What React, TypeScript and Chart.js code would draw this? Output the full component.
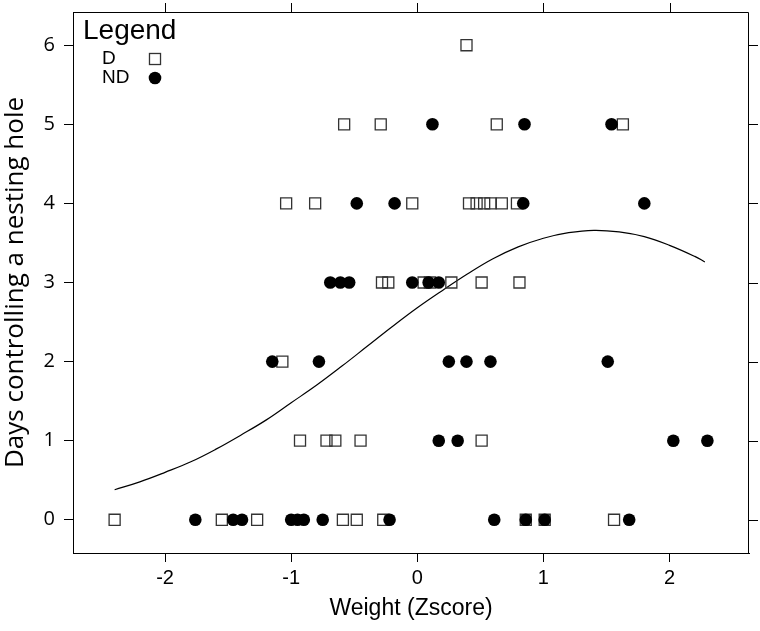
import React, { useEffect, useRef } from "react";
import { Chart, registerables } from "chart.js";

Chart.register(...registerables);

// ---- Data ----
const dX = [
  -2.4, -1.55, -1.27, -0.59, -0.48, -0.27, 0.86, 1.01, 1.56,
  -0.93, -0.72, -0.65, -0.45, 0.51,
  -1.07,
  -0.28, -0.23, 0.05, 0.1, 0.27, 0.51, 0.81,
  -1.04, -0.81, -0.04, 0.41, 0.47, 0.53, 0.58, 0.67, 0.79,
  -0.58, -0.29, 0.63, 1.63,
  0.39,
];
const dY = [
  0, 0, 0, 0, 0, 0, 0, 0, 0,
  1, 1, 1, 1, 1,
  2,
  3, 3, 3, 3, 3, 3, 3,
  4, 4, 4, 4, 4, 4, 4, 4, 4,
  5, 5, 5, 5,
  6,
];
const ndX = [
  -1.76, -1.46, -1.39, -1.0, -0.95, -0.9, -0.75, -0.22, 0.61, 0.86, 1.01, 1.68,
  0.17, 0.32, 2.03, 2.3,
  -1.15, -0.78, 0.25, 0.39, 0.58, 1.51,
  -0.69, -0.61, -0.54, -0.04, 0.09, 0.17,
  -0.48, -0.18, 0.84, 1.8,
  0.12, 0.85, 1.54,
];
const ndY = [
  0, 0, 0, 0, 0, 0, 0, 0, 0, 0, 0, 0,
  1, 1, 1, 1,
  2, 2, 2, 2, 2, 2,
  3, 3, 3, 3, 3, 3,
  4, 4, 4, 4,
  5, 5, 5,
];
const curveX = [
  -2.4, -2.2, -2.0, -1.8, -1.6, -1.4, -1.2, -1.0, -0.8, -0.6, -0.4, -0.2, 0.0,
  0.2, 0.4, 0.6, 0.8, 1.0, 1.2, 1.4, 1.6, 1.8, 2.0, 2.2, 2.28,
];
const curveY = [
  0.38, 0.48, 0.6, 0.73, 0.89, 1.07, 1.26, 1.48, 1.7, 1.94, 2.19, 2.44, 2.68,
  2.9, 3.11, 3.3, 3.45, 3.56, 3.63, 3.66, 3.64, 3.58, 3.47, 3.33, 3.26,
];
const xTicks = [-2, -1, 0, 1, 2];
const yTicks = [0, 1, 2, 3, 4, 5, 6];
const legendTitle = "Legend";
const legendLabels = ["D", "ND"];
const xTitle = "Weight (Zscore)";
const yTitle = "Days controlling a nesting hole";

const TICK_LEN = 9;
const SQ_RADIUS = 7.8;
const DOT_RADIUS = 6.3;

const framePlugin = {
  id: "frame",
  afterDraw(chart: any) {
    const { ctx, chartArea: a, scales } = chart;
    ctx.save();
    ctx.strokeStyle = "#000";
    ctx.lineWidth = 1;
    ctx.beginPath();
    ctx.rect(a.left + 0.5, a.top + 0.5, a.right - a.left - 1, a.bottom - a.top);
    ctx.stroke();
    ctx.beginPath();
    xTicks.forEach((v) => {
      const px = Math.round(scales.x.getPixelForValue(v)) + 0.5;
      ctx.moveTo(px, a.top);
      ctx.lineTo(px, a.top - TICK_LEN);
    });
    yTicks.forEach((v) => {
      const py = Math.round(scales.y.getPixelForValue(v)) + 0.5;
      ctx.moveTo(a.right, py);
      ctx.lineTo(a.right + TICK_LEN, py);
    });
    ctx.stroke();

    // legend (key)
    ctx.fillStyle = "#000";
    ctx.textBaseline = "alphabetic";
    ctx.textAlign = "left";
    ctx.font = "28px 'Liberation Sans', Arial, sans-serif";
    ctx.fillText(legendTitle, a.left + 10, a.top + 27);
    ctx.font = "19px 'Liberation Sans', Arial, sans-serif";
    ctx.textBaseline = "middle";
    const rows = [a.top + 47, a.top + 66];
    ctx.fillText(legendLabels[0], a.left + 29, rows[0]);
    ctx.fillText(legendLabels[1], a.left + 29, rows[1]);
    const mx = a.left + 82;
    const s = SQ_RADIUS * Math.SQRT1_2;
    ctx.strokeStyle = "#333";
    ctx.lineWidth = 1.3;
    ctx.strokeRect(mx - s, rows[0] - s, 2 * s, 2 * s);
    ctx.beginPath();
    ctx.arc(mx, rows[1], DOT_RADIUS, 0, Math.PI * 2);
    ctx.fill();
    ctx.restore();
  },
};

export default function App() {
  const ref = useRef<HTMLCanvasElement | null>(null);

  useEffect(() => {
    if (!ref.current) return;
    const chart = new Chart(ref.current, {
      type: "scatter",
      data: {
        datasets: [
          {
            label: legendLabels[1],
            data: ndX.map((x, i) => ({ x, y: ndY[i] })),
            pointStyle: "circle",
            pointRadius: DOT_RADIUS,
            backgroundColor: "#000",
            borderColor: "#000",
            borderWidth: 0,
            order: 0,
          },
          {
            label: legendLabels[0],
            data: dX.map((x, i) => ({ x, y: dY[i] })),
            pointStyle: "rect",
            pointRadius: SQ_RADIUS,
            backgroundColor: "rgba(0,0,0,0)",
            borderColor: "#333",
            borderWidth: 1.3,
            order: 1,
          },
          {
            label: "fit",
            data: curveX.map((x, i) => ({ x, y: curveY[i] })),
            showLine: true,
            pointRadius: 0,
            borderColor: "#000",
            borderWidth: 1.2,
            tension: 0.4,
            fill: false,
            order: 2,
          } as any,
        ],
      },
      options: {
        animation: false,
        responsive: true,
        maintainAspectRatio: false,
        events: [],
        layout: { padding: { top: 12, right: 11, left: 0, bottom: 0 } },
        plugins: {
          legend: { display: false },
          tooltip: { enabled: false },
        },
        scales: {
          x: {
            type: "linear",
            min: -2.73,
            max: 2.63,
            afterBuildTicks: (scale: any) => {
              scale.ticks = xTicks.map((v) => ({ value: v }));
            },
            afterFit: (scale: any) => {
              scale.height = 78;
              scale.paddingLeft = 0;
              scale.paddingRight = 0;
            },
            grid: {
              drawOnChartArea: false,
              drawTicks: true,
              tickLength: TICK_LEN,
              color: "#000",
            },
            border: { display: true, color: "#000" },
            ticks: {
              color: "#000",
              padding: 4,
              font: { family: "'Liberation Sans', Arial", size: 20 },
              maxRotation: 0,
            },
            title: {
              display: true,
              text: xTitle,
              color: "#000",
              font: { family: "'Liberation Sans', Arial", size: 23 },
              padding: { top: 0, bottom: 9 },
            },
          },
          y: {
            type: "linear",
            min: -0.42,
            max: 6.42,
            afterBuildTicks: (scale: any) => {
              scale.ticks = yTicks.map((v) => ({ value: v }));
            },
            afterFit: (scale: any) => {
              scale.width = 73;
              scale.paddingTop = 0;
              scale.paddingBottom = 0;
            },
            grid: {
              drawOnChartArea: false,
              drawTicks: true,
              tickLength: TICK_LEN,
              color: "#000",
            },
            border: { display: true, color: "#000" },
            ticks: {
              color: "#000",
              padding: 9,
              font: { family: "'Open Sans', sans-serif", size: 20 },
            },
            title: {
              display: true,
              text: yTitle,
              color: "#000",
              font: { family: "'Open Sans', sans-serif", size: 26 },
              padding: { top: 0, bottom: 0 },
            },
          },
        },
      },
      plugins: [framePlugin],
    });
    return () => chart.destroy();
  }, []);

  return (
    <div
      style={{
        position: "fixed",
        left: 0,
        top: 0,
        width: 760,
        height: 631,
        background: "#fff",
      }}
    >
      <canvas ref={ref} />
    </div>
  );
}
